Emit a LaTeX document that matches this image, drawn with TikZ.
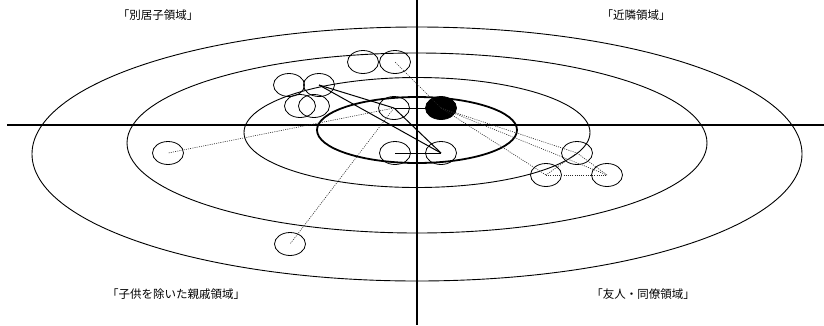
\documentclass[tikz,border=0pt]{standalone}
\usepackage{fontspec}
\newfontfamily\jpfont{Noto Sans CJK JP}
\usetikzlibrary{shapes.geometric}
\tikzset{
  person/.style={ellipse, draw, line width=0.8pt, minimum width=31pt,
    minimum height=23pt, inner sep=0pt},
  selfnode/.style={person, fill=black},
  tie/.style={line width=1pt},
  weaktie/.style={line width=0.6pt, dash pattern=on 1pt off 1.2pt, color=black!85},
  axisline/.style={line width=1.6pt},
  ring/.style={line width=0.9pt},
  corering/.style={line width=1.8pt},
  region/.style={font=\jpfont\fontsize{11.5}{13}\selectfont}
}

\begin{document}
\begin{tikzpicture}[x=1pt, y=-1pt]
  \useasboundingbox (0,0) rectangle (824,325);

  % axes
  \coordinate (ytop) at (417,0);
  \coordinate (ybot) at (417,325);
  \coordinate (xleft) at (7,125);
  \coordinate (xright) at (824,125);
  \draw[axisline] (ytop) -- (ybot);
  \draw[axisline] (xleft) -- (xright);

  % rings
  \draw[ring] (417,154) ellipse [x radius=385pt, y radius=127pt];
  \draw[ring] (417,143) ellipse [x radius=290pt, y radius=90pt];
  \draw[ring] (417,132.5) ellipse [x radius=173pt, y radius=55pt];
  \draw[corering] (417,130) ellipse [x radius=100pt, y radius=33pt];

  % region labels
  \node[region] (lchild) at (158,15) {「別居子領域」};
  \node[region] (lnear) at (636,15) {「近隣領域」};
  \node[region] (lkin) at (176,294) {「子供を除いた親戚領域」};
  \node[region] (lfriend) at (643,294) {「友人・同僚領域」};

  % persons
  \node[person] (pa) at (363,62) {};
  \node[person] (pb) at (395,62) {};
  \node[person] (pc) at (289,85) {};
  \node[person] (pd) at (319,85) {};
  \node[person] (pe) at (300,106) {};
  \node[person] (pf) at (314,106) {};
  \node[person] (pg) at (394,108) {};
  \node[selfnode] (ego) at (441,108) {};
  \node[person] (pi) at (395,153) {};
  \node[person] (pj) at (441,153) {};
  \node[person] (pk) at (577,153) {};
  \node[person] (pl) at (546,175) {};
  \node[person] (pm) at (607,175) {};
  \node[person] (pn) at (168,153) {};
  \node[person] (po) at (290,244) {};

  % strong ties
  \draw[tie] (pd.center) -- (pj.center);
  \draw[tie] (pd.center) -- (pg.center);
  \draw[tie] (pg.center) -- (pj.center);
  \draw[tie] (pg.center) -- (ego.center);
  \draw[tie] (pi.center) -- (pj.center);

  % weak ties
  \draw[weaktie] (ego.center) -- (pb.center);
  \draw[weaktie] (pg.center) -- (pn.center);
  \draw[weaktie] (pg.center) -- (po.center);
  \draw[weaktie] (ego.center) -- (pk.center);
  \draw[weaktie] (ego.center) -- (pl.center);
  \draw[weaktie] (ego.center) -- (pm.center);
  \draw[weaktie] (pk.center) -- (pl.center);
  \draw[weaktie] (pk.center) -- (pm.center);
  \draw[weaktie] (pl.center) -- (pm.center);
\end{tikzpicture}
\end{document}
